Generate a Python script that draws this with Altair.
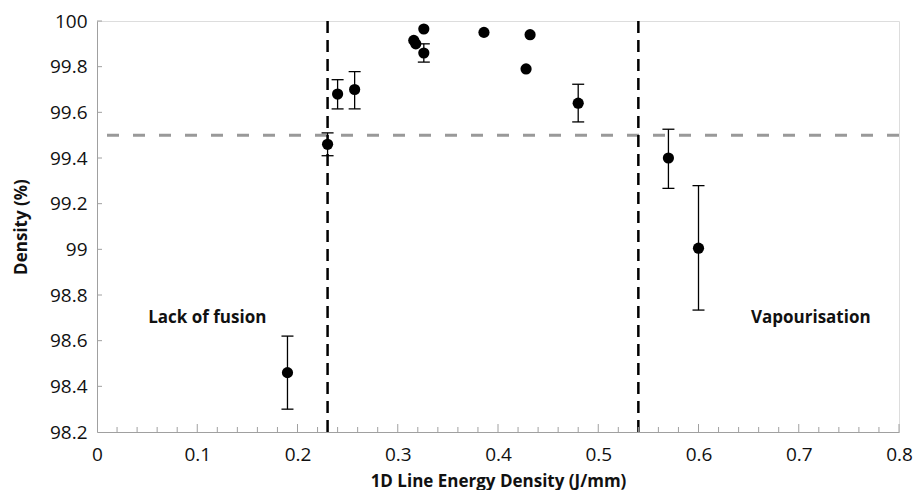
import altair as alt
import pandas as pd

# Data
energy = [0.19, 0.23, 0.24, 0.257, 0.316, 0.318, 0.326, 0.326, 0.386, 0.432, 0.428, 0.48, 0.57, 0.60]
density = [98.46, 99.46, 99.68, 99.70, 99.915, 99.90, 99.965, 99.86, 99.95, 99.94, 99.79, 99.64, 99.40, 99.005]
err_low = [98.30, 99.41, 99.615, 99.615, None, None, None, 99.82, None, None, None, 99.558, 99.267, 98.734]
err_high = [98.62, 99.51, 99.743, 99.778, None, None, None, 99.90, None, None, None, 99.723, 99.526, 99.279]

thresholds_x = [0.23, 0.54]
threshold_y = [99.5]

label_text = ["Lack of fusion", "Vapourisation"]
label_x = [0.11, 0.712]
label_y = [98.70, 98.70]

x_major = [0.1, 0.2, 0.3, 0.4, 0.5, 0.6, 0.7, 0.8]
x_minor = [0.02, 0.04, 0.06, 0.08, 0.12, 0.14, 0.16, 0.18, 0.22, 0.24, 0.26, 0.28,
           0.32, 0.34, 0.36, 0.38, 0.42, 0.44, 0.46, 0.48, 0.52, 0.54, 0.56, 0.58,
           0.62, 0.64, 0.66, 0.68, 0.72, 0.74, 0.76, 0.78]
y_ticks = [98.2, 98.4, 98.6, 98.8, 99.0, 99.2, 99.4, 99.6, 99.8, 100.0]
x_ticks = [0, 0.1, 0.2, 0.3, 0.4, 0.5, 0.6, 0.7, 0.8]

FONT = "Open Sans"
GRAY = "#a0a0a0"

pts = pd.DataFrame({"x": energy, "y": density, "lo": err_low, "hi": err_high})
errs = pts.dropna()

xs = alt.Scale(domain=[0, 0.8], nice=False, zero=False)
ys = alt.Scale(domain=[98.2, 100], nice=False, zero=False)

x_enc = alt.X("x:Q", scale=xs, title="1D Line Energy Density (J/mm)",
              axis=alt.Axis(values=x_ticks, format="~f", ticks=False, grid=False,
                            domainColor=GRAY, labelPadding=13, labelFontSize=19,
                            labelFont=FONT, labelColor="#111", titleFont=FONT,
                            titleFontSize=17, titleFontWeight="bold", titleColor="#111",
                            titlePadding=9, labelFlush=False))
y_enc = alt.Y("y:Q", scale=ys, title="Density (%)",
              axis=alt.Axis(values=y_ticks, format="~f", ticks=False, grid=False,
                            domainColor=GRAY, labelPadding=10, labelFontSize=19,
                            labelFont=FONT, labelColor="#111", titleFont=FONT,
                            titleFontSize=17, titleFontWeight="bold", titleColor="#111",
                            titlePadding=19, labelFlush=False))

base = alt.Chart(pts)

points = base.mark_circle(size=125, color="black", opacity=1).encode(x=x_enc, y=y_enc)

bars = alt.Chart(errs).mark_rule(color="black", strokeWidth=1.3).encode(
    x=alt.X("x:Q", scale=xs), y=alt.Y("lo:Q", scale=ys), y2="hi:Q")
cap_lo = alt.Chart(errs).mark_tick(orient="horizontal", color="black", size=12,
                                   thickness=1.3, opacity=1).encode(
    x=alt.X("x:Q", scale=xs), y=alt.Y("lo:Q", scale=ys))
cap_hi = alt.Chart(errs).mark_tick(orient="horizontal", color="black", size=12,
                                   thickness=1.3, opacity=1).encode(
    x=alt.X("x:Q", scale=xs), y=alt.Y("hi:Q", scale=ys))

vlines = alt.Chart(pd.DataFrame({"x": thresholds_x})).mark_rule(
    color="black", strokeWidth=2.5, strokeDash=[12, 7]).encode(x=alt.X("x:Q", scale=xs))
hline = alt.Chart(pd.DataFrame({"y": threshold_y})).mark_rule(
    color="#999999", strokeWidth=3, strokeDash=[12, 14]).encode(y=alt.Y("y:Q", scale=ys))

labels = alt.Chart(pd.DataFrame({"t": label_text, "x": label_x, "y": label_y})).mark_text(
    font=FONT, fontSize=17, fontWeight="bold", color="#111").encode(
    x=alt.X("x:Q", scale=xs), y=alt.Y("y:Q", scale=ys), text="t:N")

major_ticks = alt.Chart(pd.DataFrame({"x": x_major})).mark_rule(
    color=GRAY, strokeWidth=1).encode(x=alt.X("x:Q", scale=xs),
                                      y=alt.value(411), y2=alt.value(403))
minor_ticks = alt.Chart(pd.DataFrame({"x": x_minor})).mark_rule(
    color=GRAY, strokeWidth=1).encode(x=alt.X("x:Q", scale=xs),
                                      y=alt.value(411), y2=alt.value(406))
yt = alt.Chart(pd.DataFrame({"y": y_ticks[1:]})).mark_rule(
    color=GRAY, strokeWidth=1).encode(y=alt.Y("y:Q", scale=ys),
                                      x=alt.value(0), x2=alt.value(5))

chart = alt.layer(hline, vlines, major_ticks, minor_ticks, yt, bars, cap_lo, cap_hi,
                  points, labels).properties(
    width=802, height=411,
    autosize=alt.AutoSizeParams(type="none"),
    padding={"left": 89, "top": 13, "right": 14, "bottom": 58},
).configure_view(stroke=GRAY, strokeWidth=1).configure(background="white")

chart.save("out.html", embed_options={"renderer": "svg", "actions": False})
